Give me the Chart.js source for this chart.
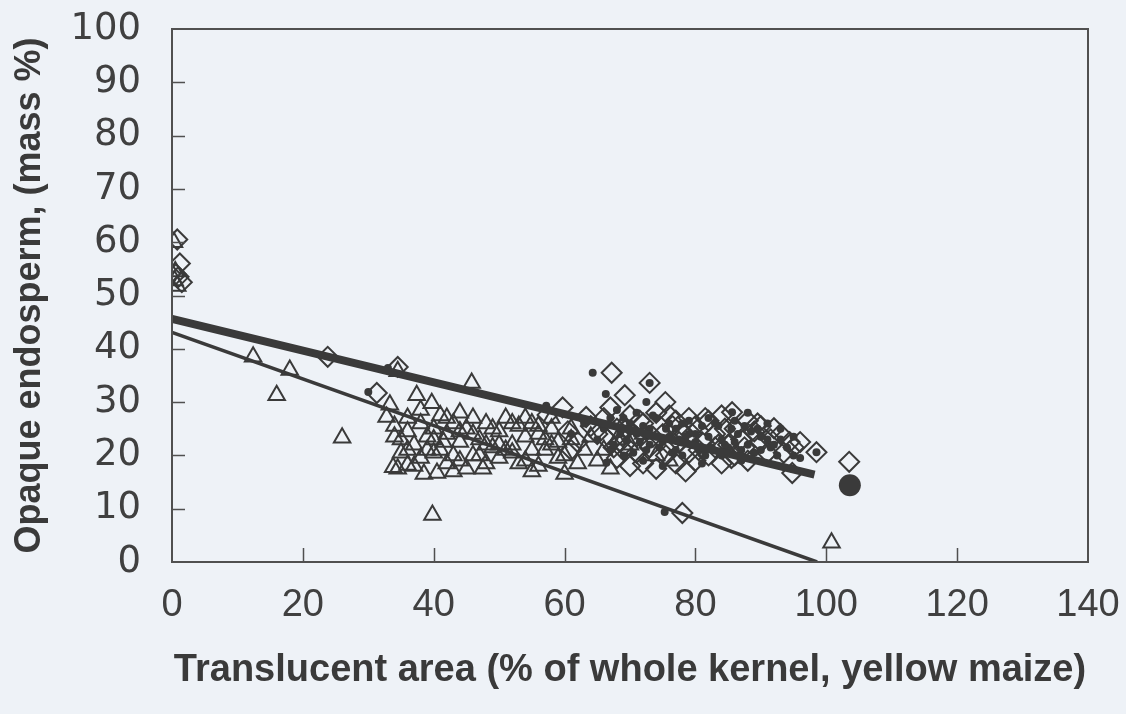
<!DOCTYPE html>
<html>
<head>
<meta charset="utf-8">
<script src="https://cdn.jsdelivr.net/npm/chart.js@4.4.0/dist/chart.umd.min.js"></script>
<style>
  html, body { margin: 0; padding: 0; background: #eef2f7; }
  #wrap { width: 1126px; height: 714px; }
</style>
</head>
<body>
<div id="wrap"><canvas id="chart" width="1126" height="714"></canvas></div>
<script>
// axis ticks
const xTicks = [0, 20, 40, 60, 80, 100, 120, 140];
const yTicks = [0, 10, 20, 30, 40, 50, 60, 70, 80, 90, 100];

// open diamonds
const diamonds = [
    [0.8, 60.5], [1.2, 56], [1.5, 52.5], [0.6, 54], [1, 53.5],
    [23.8, 38.5], [34.5, 36.6], [31.3, 31.7], [57.4, 27.6], [59.7, 29], [63.3, 27.2],
    [60.5, 24.5], [62, 22.5], [64, 25.5], [61, 21],
    [67.2, 35.5], [69.2, 31.3], [73, 33.6], [75.4, 30], [66, 27], [68, 25], [70, 27.5],
    [72, 26], [74, 28], [71, 23.5], [69, 21], [66.5, 23], [73, 21.5], [75, 24], [77, 26.5],
    [79, 27], [76, 22], [78, 24.5], [80, 25.5], [82, 26.5], [84, 27.5], [85.6, 28.1],
    [83, 24], [81, 22.5], [79, 20.5], [77, 18.5], [72, 18.5], [70, 18], [74, 17.5],
    [78.5, 17], [80, 19], [86, 25], [88, 26.5], [87, 23], [89, 24.5], [90, 22.5], [92, 25.1],
    [91, 20.5], [94.4, 22.5], [93, 24], [86, 20], [84, 18.5], [88, 19], [94.8, 16.7],
    [98.5, 20.6], [103.5, 18.8], [78, 9.2], [68, 19.5], [71, 20.5], [82, 20], [85, 22],
    [90, 25.5], [76, 27.5], [67, 29], [83, 21.5], [95, 21.5],
    [65, 24], [67.5, 21.5], [69.5, 25], [71.5, 26.5], [73.5, 23.5], [75.5, 20], [77.5, 22.5],
    [79.5, 24], [81.5, 27], [83.5, 22], [85.5, 19.5], [87.5, 21.5], [89.5, 26], [91.5, 23],
    [93.5, 20.5], [96, 22.5], [68.5, 22.5], [76.5, 25.5], [80.5, 21], [84.5, 25]
];

// open triangles
const triangles = [
    [0.3, 60], [0.5, 54.5], [0.4, 52.8], [0.8, 51.8],
    [12.4, 38.5], [18, 36], [16, 31.3], [26, 23.3], [39.8, 8.8], [37.4, 31.3], [39.7, 29.8],
    [45.8, 33.6], [33.3, 29.5], [32.8, 27.2], [33.8, 17.8], [36, 18.2], [40.5, 16.7],
    [100.8, 3.6], [34.5, 35.8],
    [34, 25.5], [35, 23], [36, 24.5], [37, 22], [38, 26], [39, 23.5], [40, 25], [41, 21],
    [42, 24], [43, 26], [44, 22.5], [45, 25], [46, 27], [47, 23], [48, 26], [49, 21.5],
    [50, 24.5], [51, 27], [52, 22], [53, 25.5], [54, 23.5], [55, 26], [56, 24], [57, 21],
    [58, 25], [59, 22.5], [60, 20], [61, 23], [62, 18.5], [60, 16.5], [38, 19.5], [40, 20.5],
    [42, 18.5], [44, 19], [46, 20], [48, 18.5], [50, 19.5], [52, 20.5], [54, 19], [56, 18],
    [35, 20.5], [37, 18], [39, 21], [41, 27.5], [43, 20], [45, 17.5], [47, 20], [49, 25],
    [51, 21], [53, 18.5], [55, 21], [57, 23], [36, 27], [38, 28.5], [42, 27], [44, 28],
    [46, 24], [48, 22], [50, 22], [52, 26], [54, 27], [56, 25.5], [58, 22], [40, 23],
    [34, 23.5], [36, 21], [44, 24.5], [59, 19.5], [61, 25], [63, 21], [65, 19], [67, 17.5],
    [64, 23.5], [66, 21], [68, 23], [70, 22], [72, 24], [74, 20], [76, 19], [69, 26],
    [34.5, 17.5], [38.5, 16.5], [43, 17], [41.5, 22.5], [47.5, 17.5], [55, 17], [58, 27]
];

// small filled dots
const dots = [
    [30, 31.9], [33, 36.4], [57.2, 29.3], [64.3, 35.5], [66.3, 31.5], [72.5, 30], [73, 33.6],
    [66.4, 18.6], [75.3, 9.4], [98.5, 20.6], [94.8, 17.5], [85.6, 28.1], [67, 27], [68.5, 24],
    [70, 26], [71.5, 22.5], [73, 25], [74.5, 21.5], [76, 26], [77.5, 23], [79, 24], [80.5, 21],
    [82, 23.5], [83.5, 25.5], [85, 21.5], [86.5, 24], [88, 22], [89.5, 25], [91, 23], [92.5, 20],
    [94, 21.5], [69, 20], [72, 19], [75, 18], [78, 20], [81, 18.5], [84, 20], [87, 19], [90, 21],
    [93, 23], [96, 19.5], [61, 24], [63, 26], [65, 23], [67, 21], [70, 24.5], [73, 22],
    [76, 23.5], [79, 26.5], [82, 27], [86, 26.5], [88, 28], [91, 26], [95, 23.5], [71, 28],
    [74, 27], [77, 25], [80, 24],
    [66, 25], [67.5, 22], [69, 27], [70.5, 20.5], [72, 25.5], [73.5, 27.5], [75, 22.5],
    [76.5, 20.5], [78, 26], [79.5, 22], [81, 25.5], [82.5, 21.5], [84, 23], [85.5, 25],
    [87, 21], [88.5, 24.5], [90, 23.5], [91.5, 21.5], [93, 25], [68, 28.5], [71, 24],
    [74, 23.5], [77, 21], [80, 22.5], [83, 26], [86, 22.5], [89, 20.5], [92, 22], [69.5, 23],
    [72.5, 21], [75.5, 25], [78.5, 23.5], [81.5, 20], [84.5, 22], [87.5, 25.5], [95, 20]
];

// large filled circle
const bigDot = [[103.6, 14.4]];

// regression lines
const thickLine = [[0, 45.6], [98.2, 16.4]];
const thinLine = [[0, 43.1], [98.6, 0]];

const ink = '#3a3a3a';
const toXY = arr => arr.map(p => ({x: p[0], y: p[1]}));

const frameAndTicks = {
    id: 'frameAndTicks',
    beforeDraw: (chart) => {
        const ctx = chart.ctx;
        ctx.save();
        ctx.fillStyle = '#eef2f7';
        ctx.fillRect(0, 0, chart.width, chart.height);
        ctx.restore();
    },
    afterDraw: (chart) => {
        const {ctx, chartArea: a, scales} = chart;
        ctx.save();
        ctx.strokeStyle = '#505050';
        ctx.lineWidth = 2;
        ctx.strokeRect(a.left, a.top, a.right - a.left, a.bottom - a.top);
        ctx.beginPath();
        yTicks.slice(1, -1).forEach(v => {
            const py = Math.round(scales.y.getPixelForValue(v)) + 0.5;
            ctx.moveTo(a.left, py);
            ctx.lineTo(a.left + 13, py);
        });
        xTicks.slice(1, -1).forEach(v => {
            const px = Math.round(scales.x.getPixelForValue(v)) + 0.5;
            ctx.moveTo(px, a.bottom);
            ctx.lineTo(px, a.bottom - 14);
        });
        ctx.lineWidth = 1.5;
        ctx.stroke();
        ctx.restore();
    }
};

new Chart(document.getElementById('chart'), {
    type: 'scatter',
    data: {
        datasets: [
            {
                label: 'thick',
                type: 'line',
                data: toXY(thickLine),
                borderColor: ink,
                borderWidth: 8,
                pointRadius: 0,
                order: 1
            },
            {
                label: 'thin',
                type: 'line',
                data: toXY(thinLine),
                borderColor: ink,
                borderWidth: 3.5,
                pointRadius: 0,
                order: 1
            },
            {
                label: 'diamonds',
                data: toXY(diamonds),
                pointStyle: 'rectRot',
                pointRadius: 10,
                borderColor: ink,
                borderWidth: 2,
                backgroundColor: 'rgba(0,0,0,0)',
                order: 3
            },
            {
                label: 'triangles',
                data: toXY(triangles),
                pointStyle: 'triangle',
                pointRadius: 9.5,
                borderColor: ink,
                borderWidth: 2,
                backgroundColor: 'rgba(0,0,0,0)',
                order: 4
            },
            {
                label: 'dots',
                data: toXY(dots),
                pointStyle: 'circle',
                pointRadius: 4,
                borderWidth: 0,
                backgroundColor: ink,
                order: 2
            },
            {
                label: 'big',
                data: toXY(bigDot),
                pointStyle: 'circle',
                pointRadius: 11,
                borderWidth: 0,
                backgroundColor: ink,
                order: 2
            }
        ]
    },
    options: {
        responsive: false,
        animation: false,
        layout: { padding: { top: 29, right: 38, left: 0, bottom: 0 } },
        plugins: {
            legend: { display: false },
            tooltip: { enabled: false }
        },
        scales: {
            x: {
                type: 'linear',
                min: 0,
                max: 140,
                afterBuildTicks: (s) => { s.ticks = xTicks.map(v => ({value: v})); },
                afterFit: (s) => {
                    s.height = 152;
                    s.paddingLeft = 0; s.paddingRight = 0;
                },
                grid: { display: false },
                border: { display: false },
                ticks: {
                    color: '#404040',
                    padding: 13,
                    maxRotation: 0,
                    font: { family: 'Liberation Sans, Arial, sans-serif', size: 38 }
                },
                title: {
                    display: true,
                    text: 'Translucent area (% of whole kernel, yellow maize)',
                    color: '#3a3a3a',
                    padding: { top: 10, bottom: 21 },
                    font: { family: 'Liberation Sans, Arial, sans-serif', size: 38, weight: 'bold' }
                }
            },
            y: {
                type: 'linear',
                min: 0,
                max: 100,
                afterBuildTicks: (s) => { s.ticks = yTicks.map(v => ({value: v})); },
                afterFit: (s) => {
                    s.width = 172;
                    s.paddingTop = 0; s.paddingBottom = 0;
                },
                grid: { display: false },
                border: { display: false },
                ticks: {
                    color: '#404040',
                    padding: 23,
                    font: { family: 'DejaVu Sans, sans-serif', size: 37 }
                },
                title: {
                    display: true,
                    text: 'Opaque endosperm, (mass %)',
                    color: '#3a3a3a',
                    padding: { top: 8, bottom: 0 },
                    font: { family: 'Liberation Sans, Arial, sans-serif', size: 36, weight: 'bold' }
                }
            }
        }
    },
    plugins: [frameAndTicks]
});
</script>
</body>
</html>
